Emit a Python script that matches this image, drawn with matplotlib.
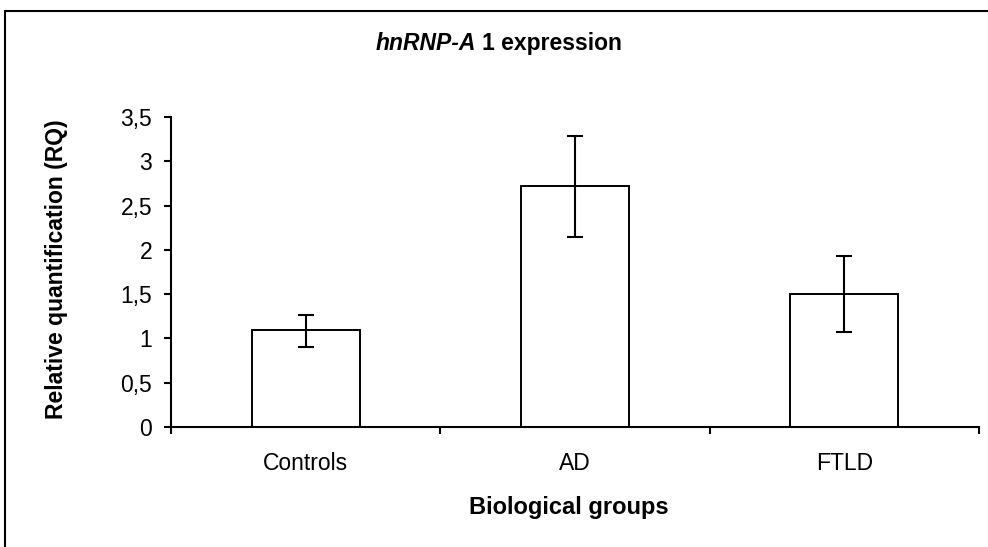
import matplotlib
matplotlib.use("Agg")
import matplotlib.pyplot as plt
from matplotlib.patches import Rectangle

categories = ["Controls", "AD", "FTLD"]
values = [1.09, 2.72, 1.50]
err_low = [0.90, 2.14, 1.07]
err_high = [1.26, 3.28, 1.93]
yticks = [0, 0.5, 1, 1.5, 2, 2.5, 3, 3.5]
ytick_labels = ["0", "0,5", "1", "1,5", "2", "2,5", "3", "3,5"]

plt.rcParams['font.family'] = ['Liberation Sans', 'DejaVu Sans']

W, H = 988, 547
fig = plt.figure(figsize=(W / 100, H / 100), dpi=100)
fig.patch.set_facecolor("white")

# figure frame
fig.patches.append(Rectangle((4.5 / W, -0.1), 1.2, 1.1 - 10.5 / H,
                             transform=fig.transFigure, fill=False,
                             edgecolor="black", linewidth=1.5))

ax = fig.add_axes([171 / W, 1 - 427 / H, 808 / W, 310 / H])
x = [i + 0.5 for i in range(len(categories))]
yerr = [[v - lo for v, lo in zip(values, err_low)],
        [hi - v for v, hi in zip(values, err_high)]]
ax.bar(x, values, width=0.4, color="white", edgecolor="black", linewidth=1.4, zorder=2)
ax.errorbar(x, values, yerr=yerr, fmt="none", ecolor="black", elinewidth=1.5,
            capsize=5.7, capthick=1.5, zorder=3)

ax.set_xlim(0, 3)
ax.set_ylim(0, 3.5)
for s in ["top", "right"]:
    ax.spines[s].set_visible(False)
for s in ["left", "bottom"]:
    ax.spines[s].set_linewidth(1.5)
    ax.spines[s].set_color("black")

ax.set_xticks([0, 1, 2, 3])
ax.set_xticklabels([])
ax.set_xticks(x, minor=True)
ax.set_xticklabels(categories, minor=True)
ax.tick_params(axis="x", which="major", direction="out", length=5, width=1.5)
ax.tick_params(axis="x", which="minor", length=0, pad=18, labelsize=16.5)
ax.set_yticks(yticks)
ax.set_yticklabels(ytick_labels)
ax.tick_params(axis="y", direction="out", length=5, width=1.5, pad=8.5, labelsize=16.5)

# title
fig.text(476 / W, 1 - 50 / H, "hnRNP-A", ha="right", va="baseline",
         fontsize=16.5, fontweight="bold", fontstyle="italic")
fig.text(482 / W, 1 - 50 / H, "1 expression", ha="left", va="baseline",
         fontsize=16.5, fontweight="bold")

fig.text(569 / W, 1 - 514 / H, "Biological groups", ha="center", va="baseline",
         fontsize=17, fontweight="bold")
fig.text(63 / W, 1 - 269 / H, "Relative quantification (RQ)", ha="center",
         va="baseline", rotation=90, rotation_mode="anchor",
         fontsize=16.5, fontweight="bold")

fig.savefig("out.png", dpi=100)
